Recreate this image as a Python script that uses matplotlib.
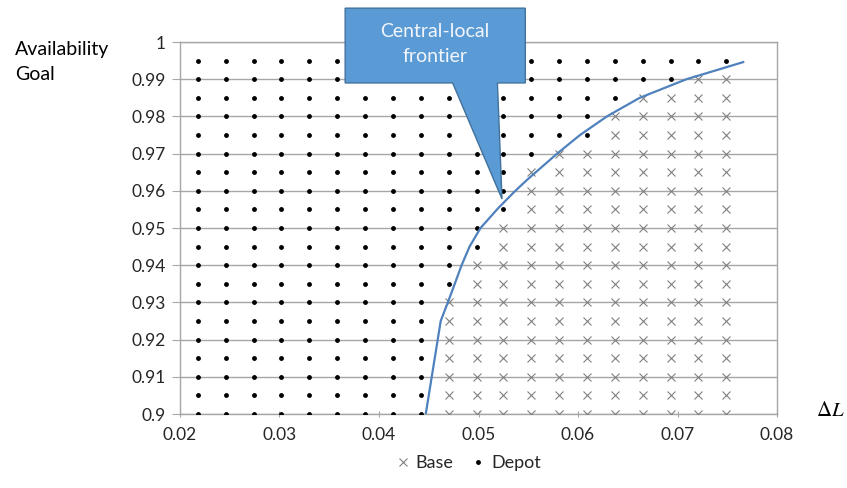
import matplotlib
matplotlib.use("Agg")
import matplotlib.pyplot as plt
from matplotlib.patches import Polygon
from matplotlib.lines import Line2D

plt.rcParams['font.family'] = ['Lato', 'DejaVu Sans']
plt.rcParams['mathtext.fontset'] = 'stix'

# grid of evaluated cases
delta_L = [0.0218, 0.0246, 0.0274, 0.0302, 0.0330, 0.0358, 0.0386, 0.0414,
           0.0442, 0.0470, 0.0498, 0.0525, 0.0553, 0.0581, 0.0609, 0.0637,
           0.0665, 0.0693, 0.0721, 0.0749]
goals = [0.900, 0.905, 0.910, 0.915, 0.920, 0.925, 0.930, 0.935, 0.940, 0.945,
         0.950, 0.955, 0.960, 0.965, 0.970, 0.975, 0.980, 0.985, 0.990, 0.995]
# index of the first delta_L column that is "Base" in each goal row
first_base = [9, 9, 9, 9, 9, 9, 9, 10, 10, 11,
              11, 12, 12, 12, 13, 15, 15, 16, 18, 20]

# central-local frontier
frontier_x = [0.0447, 0.0453, 0.0462, 0.0472, 0.0483, 0.0491, 0.0502, 0.0520,
              0.0537, 0.0549, 0.0579, 0.0602, 0.0629, 0.0662, 0.0709, 0.0766]
frontier_y = [0.900, 0.910, 0.925, 0.932, 0.940, 0.945, 0.950, 0.9554,
              0.960, 0.963, 0.970, 0.975, 0.980, 0.985, 0.990, 0.9946]

x_ticks = [0.02, 0.03, 0.04, 0.05, 0.06, 0.07, 0.08]
y_ticks = [0.90, 0.91, 0.92, 0.93, 0.94, 0.95, 0.96, 0.97, 0.98, 0.99, 1.00]

base_x, base_y, depot_x, depot_y = [], [], [], []
for g, fb in zip(goals, first_base):
    for k, d in enumerate(delta_L):
        if k >= fb:
            base_x.append(d)
            base_y.append(g)
        else:
            depot_x.append(d)
            depot_y.append(g)

fig = plt.figure(figsize=(8.47, 4.88), dpi=100)
ax = fig.add_axes([0.2125, 0.1516, 0.7049, 0.7623])

grid_col = '#a6a6a6'
txt_col = '#262626'

ax.set_xlim(0.02, 0.08)
ax.set_ylim(0.90, 1.00)
ax.set_xticks(x_ticks)
ax.set_yticks(y_ticks)
ax.set_xticklabels(['%g' % v for v in x_ticks])
ax.set_yticklabels(['%g' % round(v, 2) for v in y_ticks])
ax.yaxis.grid(True, color=grid_col, linewidth=1)
ax.set_axisbelow(True)
for s in ax.spines.values():
    s.set_color(grid_col)
    s.set_linewidth(1)
ax.tick_params(axis='y', length=6, color=grid_col, labelsize=12.5,
               labelcolor=txt_col, pad=4)
ax.tick_params(axis='x', direction='inout', length=5, color=grid_col,
               labelsize=12.5, labelcolor=txt_col, pad=7)

ax.plot(base_x, base_y, 'x', color='#808080', ms=6, mew=0.8, zorder=3)
ax.plot(depot_x, depot_y, 'o', color='black', ms=3.5, mew=0, zorder=3)
ax.plot(frontier_x, frontier_y, color='#4f81bd', lw=1.6, zorder=4)

# callout
bx0, bx1, by0, by1 = 0.0366, 0.0547, 0.989, 1.0091
callout = [(bx0, by0), (0.0474, by0), (0.05236, 0.9578), (0.0519, by0),
           (bx1, by0), (bx1, by1), (bx0, by1)]
ax.add_patch(Polygon(callout, closed=True, facecolor='#5b9bd5',
                     edgecolor='#41719c', lw=1, zorder=6, clip_on=False))
ax.text((bx0 + bx1) / 2, 0.9995, 'Central-local\nfrontier', color='#f2f6fc',
        fontsize=14, ha='center', va='center', linespacing=1.6,
        zorder=7, clip_on=False)

fig.text(15 / 847, 1 - 62 / 488, 'Availability\nGoal', fontsize=14,
         color='black', ha='left', va='center', linespacing=1.6)
fig.text(845 / 847, 1 - 410 / 488, r'$\Delta L$', fontsize=15,
         color='black', ha='right', va='center')

handles = [Line2D([], [], ls='', marker='x', color='#808080', ms=6, mew=0.8),
           Line2D([], [], ls='', marker='o', color='black', ms=3.5, mew=0)]
fig.legend(handles, ['Base', 'Depot'], loc='center',
           bbox_to_anchor=(468 / 847, 1 - 463 / 488), ncol=2, frameon=False,
           fontsize=13, handlelength=0.8, handletextpad=0.3,
           columnspacing=1.0, labelcolor=txt_col)

fig.savefig('out.png', dpi=100)
